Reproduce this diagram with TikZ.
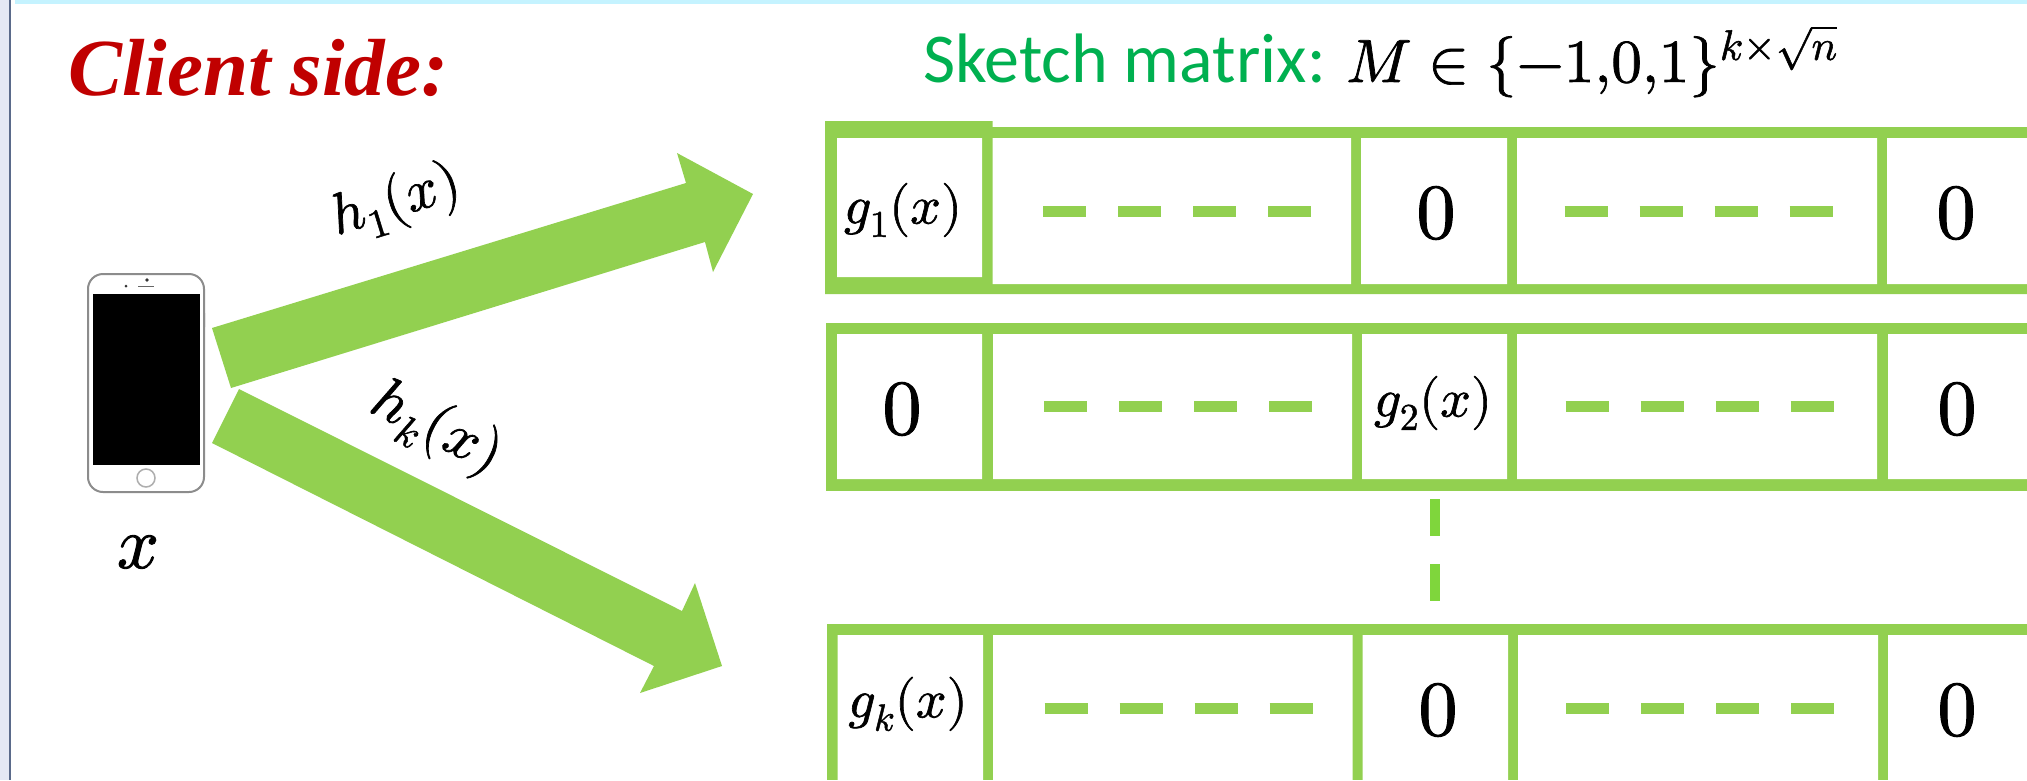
\documentclass[tikz,border=0pt]{standalone}
\usepackage{fontspec}
\usepackage{unicode-math}
\setmainfont{Liberation Serif}
\setmathfont{Latin Modern Math}[FakeBold=1.2]
\newfontfamily\carlito{Carlito}
\definecolor{leaf}{HTML}{92D050}
\definecolor{vdash}{HTML}{7FD63C}
\definecolor{sketchgreen}{HTML}{00B050}
\definecolor{clientred}{HTML}{C00000}
\definecolor{topcyan}{HTML}{C5F3FF}
\definecolor{sideband}{HTML}{E4E8F4}
\definecolor{sideline}{HTML}{5A6A8A}
\definecolor{phonegray}{HTML}{8C8C8C}
\newcommand{\fsz}[1]{\fontsize{#1}{#1}\selectfont}
\tikzset{
  x=1pt,y=-1pt,
  lbl/.style={inner sep=0pt,outer sep=0pt,text=black},
  zero/.style={lbl,font=\fsz{78}},
  gtext/.style={lbl,font=\fsz{54}},
  hole/.style={fill=white},
  band/.style={fill=leaf},
  rowdash/.style={draw=leaf,line width=11pt,dash pattern=on 43pt off 32pt},
  coldash/.style={draw=vdash,line width=10pt,dash pattern=on 37pt off 28pt},
  fat/.style={fill=leaf},
}
\begin{document}
\begin{tikzpicture}
\useasboundingbox[fill=white] (0,0) rectangle (2027,780);
% slide edges
\fill[sideband] (0,0) rectangle (9,780);
\fill[sideline] (9,0) rectangle (11,780);
\fill[topcyan] (15,0) rectangle (2027,4);
% titles
\node[lbl,anchor=base west,text=clientred,font=\fsz{81}\bfseries\itshape] (client) at (68,95) {Client side:};
\node[lbl,anchor=base west,text=sketchgreen,font=\carlito\fsz{70}] (sketch) at (923,82) {Sketch matrix:};
\node[lbl,anchor=base west,font=\fsz{61}] (mset) at (1346,82) {$M\in\{-1{,}0{,}1\}^{k\times\sqrt{n}}$};
% phone
\fill[phonegray] (87,293) rectangle (89,303) (87,315) rectangle (89,328) (87,334) rectangle (89,347) (203,313) rectangle (205,327);
\draw[phonegray,line width=2pt,fill=white,rounded corners=15pt] (88,274) rectangle (204,492);
\fill[black] (93,294) rectangle (200,465);
\draw[black!60,line width=1pt] (138,286) -- (154,286);
\fill[black!80] (147,280) circle (1.8) (126,286) circle (1.5);
\draw[phonegray!70,line width=1.5pt] (146,478) circle (9);
\node[lbl,font=\fsz{74}] (xlabel) at (138,552) {$x$};
% arrows
\fill[fat] (212,328) -- (686,183) -- (677,153) -- (753,194) -- (713,272) -- (705,242) -- (231,388) -- cycle;
\fill[fat] (239,389) -- (682,611) -- (695,583) -- (722,666) -- (640,693) -- (654,666) -- (212,443) -- cycle;
\node[lbl,rotate=17,font=\fsz{58}] (h1) at (396,202) {$h_1(x)$};
\node[lbl,rotate=-27,font=\fsz{60}] (hk) at (436,429) {$h_k(x)$};
% row 1
\fill[band] (825,127) rectangle (2027,294) (825,121) rectangle (992.5,294);
\fill[hole] (837,138) rectangle (982,277) (992.5,138) rectangle (1351,284) (1361,138) rectangle (1507,284) (1517,138) rectangle (1877,284) (1887,138) rectangle (2027,284);
% row 2
\fill[band] (826,323) rectangle (2027,491);
\fill[hole] (837,334) rectangle (982,479) (993,334) rectangle (1352,479) (1362,334) rectangle (1507,479) (1517,334) rectangle (1877,479) (1888,334) rectangle (2027,479);
% row 3
\fill[band] (827,624) rectangle (2027,780);
\fill[hole] (837.5,635) rectangle (983,780) (993,635) rectangle (1352.5,780) (1362.5,635) rectangle (1508,780) (1518,635) rectangle (1878,780) (1888,635) rectangle (2027,780);
% dashes
\foreach \yy/\dx in {211/0,406.5/1,708.5/1.5}{
  \draw[rowdash] (1043+\dx,\yy) -- (1312+\dx,\yy);
  \draw[rowdash] (1564.5+\dx,\yy) -- (1833+\dx,\yy);
}
\draw[coldash] (1435,499) -- (1435,601);
% cell text
\node[gtext] (g1) at (903,210) {$g_1(x)$};
\node[zero] (r1c3) at (1436,213) {$0$};
\node[zero] (r1c5) at (1956,213) {$0$};
\node[zero] (r2c1) at (902,409) {$0$};
\node[gtext] (g2) at (1433,403) {$g_2(x)$};
\node[zero] (r2c5) at (1957,409) {$0$};
\node[gtext] (gk) at (908,704) {$g_k(x)$};
\node[zero] (r3c3) at (1438,710) {$0$};
\node[zero] (r3c5) at (1957,710) {$0$};
\end{tikzpicture}
\end{document}
